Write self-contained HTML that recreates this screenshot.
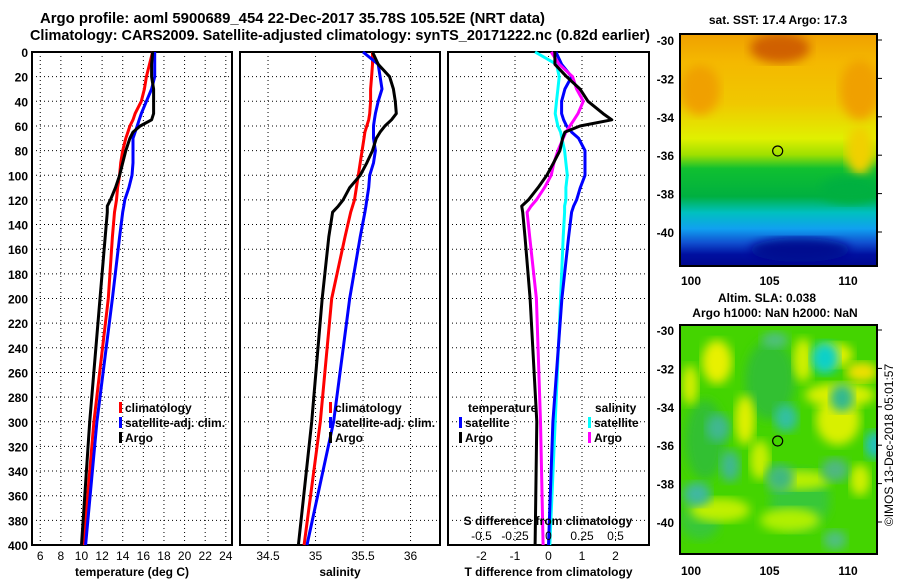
<!DOCTYPE html>
<html><head><meta charset="utf-8"><style>
body{margin:0;background:#fff;width:900px;height:580px;overflow:hidden}
svg{font-family:"Liberation Sans",Arial,sans-serif;font-weight:bold}
</style></head><body>
<svg id="c" width="900" height="580" xmlns="http://www.w3.org/2000/svg">
<defs>
<linearGradient id="sstg" x1="0" y1="0" x2="0" y2="1">
<stop offset="0" stop-color="#f0a000"/><stop offset="0.12" stop-color="#f4b800"/><stop offset="0.3" stop-color="#f0c800"/><stop offset="0.45" stop-color="#e0f000"/><stop offset="0.52" stop-color="#a0e000"/><stop offset="0.58" stop-color="#10c030"/><stop offset="0.7" stop-color="#00b040"/><stop offset="0.77" stop-color="#00c0c0"/><stop offset="0.84" stop-color="#10a0f0"/><stop offset="0.9" stop-color="#1050d0"/><stop offset="0.95" stop-color="#0010a0"/><stop offset="1" stop-color="#000890"/>
</linearGradient>
<filter id="bl"><feGaussianBlur stdDeviation="5"/></filter>
<clipPath id="m2c"><rect x="680" y="325" width="197" height="229"/></clipPath>
<clipPath id="m1c"><rect x="680" y="34" width="197" height="232"/></clipPath>
</defs>
<text x="40" y="23" font-size="15" textLength="505" lengthAdjust="spacingAndGlyphs">Argo profile: aoml 5900689_454 22-Dec-2017 35.78S 105.52E (NRT data)</text>
<text x="30" y="40" font-size="15" textLength="620" lengthAdjust="spacingAndGlyphs">Climatology: CARS2009. Satellite-adjusted climatology: synTS_20171222.nc (0.82d earlier)</text>
<g id="p"></g>
</svg>
<script>
// depth axis
const depths=[0,10,20,30,40,50,55,60,65,70,80,90,100,110,120,125,130,150,200,300,400];
const depthTicks=[0,20,40,60,80,100,120,140,160,180,200,220,240,260,280,300,320,340,360,380,400];
// temperature (deg C)
const tArgo=[16.9,16.8,16.8,17.0,17.0,17.0,16.8,15.7,15.0,14.7,14.3,14.0,13.7,13.3,12.8,12.5,12.5,12.3,11.8,10.8,10.0];
const tClim=[16.9,16.6,16.3,16.1,15.8,15.2,15.0,14.7,14.5,14.3,14.0,13.8,13.7,13.5,13.4,13.3,13.2,13.0,12.6,11.2,10.2];
const tSat=[17.1,17.1,17.1,16.8,16.3,15.8,15.6,15.4,15.2,15.0,15.0,15.0,14.9,14.6,14.2,14.1,14.0,13.7,13.0,11.5,10.4];
const tTicks=[6,8,10,12,14,16,18,20,22,24];
// salinity
const sArgo=[35.60,35.66,35.78,35.82,35.84,35.85,35.80,35.73,35.68,35.64,35.60,35.54,35.47,35.36,35.29,35.24,35.18,35.14,35.07,34.96,34.82];
const sClim=[35.60,35.60,35.59,35.58,35.58,35.57,35.56,35.54,35.52,35.51,35.49,35.47,35.45,35.43,35.41,35.39,35.37,35.31,35.17,35.05,34.88];
const sSat=[35.50,35.66,35.68,35.70,35.66,35.63,35.62,35.61,35.61,35.61,35.63,35.61,35.57,35.56,35.54,35.53,35.52,35.47,35.36,35.19,34.91];
const sTicks=[34.5,35,35.5,36];
// differences
const dTArgo=[0.19,0.19,0.54,0.94,1.18,1.63,1.89,0.94,0.49,0.42,0.34,0.15,-0.05,-0.31,-0.6,-0.8,-0.77,-0.7,-0.55,-0.35,-0.4];
const dTSat=[0.22,0.39,0.69,0.49,0.39,0.39,0.45,0.54,0.69,0.9,1.09,1.09,1.09,0.95,0.84,0.75,0.69,0.6,0.4,0.13,0.0];
const dSArgo=[0.02,0.08,0.18,0.21,0.26,0.22,0.19,0.16,0.13,0.11,0.07,0.04,0.02,-0.03,-0.09,-0.13,-0.16,-0.14,-0.09,-0.06,-0.04];
const dSSat=[-0.1,0.06,0.08,0.07,0.06,0.05,0.06,0.07,0.09,0.1,0.12,0.13,0.14,0.13,0.13,0.12,0.12,0.11,0.09,0.05,0.01];
const dTTicks=[-2,-1,0,1,2];
const dSTicks=[-0.5,-0.25,0,0.25,0.5];
const dSTickLabels=['-0.5','-0.25','0','0.25','0.5'];
const latTicks=[-30,-32,-34,-36,-38,-40];
const lonTicks=[100,105,110];
const argoPos=[105.52,-35.78];

const NS='http://www.w3.org/2000/svg';
const G=document.getElementById('p');
function el(t,a,txt,par){const e=document.createElementNS(NS,t);for(const k in a)e.setAttribute(k,a[k]);if(txt!=null)e.textContent=txt;(par||G).appendChild(e);return e;}
const Y0=52,Y1=545;
const yD=d=>Y0+d/400*(Y1-Y0);
function sc(x0,x1,v0,v1){return v=>x0+(v-v0)/(v1-v0)*(x1-x0);}
const xT=sc(32,232,5.2,24.6), xS=sc(240,440,34.205,36.31), xdT=sc(448,649,-3,3), xdS=sc(448,649,-0.75,0.75);

function panel(x0,x1,name,ticks,xf,labels,title){
  const g=el('g',{});
  
  
  el('rect',{x:x0,y:Y0,width:x1-x0,height:Y1-Y0,fill:'#fff',stroke:'#000','stroke-width':2},null,g);
  depthTicks.forEach(d=>{if(d>0&&d<400){const l=el('line',{x1:x0,x2:x1,y1:yD(d),y2:yD(d),stroke:'#000','stroke-dasharray':'1 3'},null,g);}});
  ticks.forEach(v=>{const l=el('line',{x1:xf(v),x2:xf(v),y1:Y0,y2:Y1,stroke:'#000','stroke-dasharray':'1 3'},null,g);});
  if(labels) ticks.forEach((v,i)=>{const t=el('text',{x:xf(v),y:560,'font-size':12,'text-anchor':'middle',style:'font-weight:normal'},labels[i],g);});
  const t=el('text',{x:(x0+x1)/2,y:576,'font-size':12,'text-anchor':'middle'},title,g);
  
  return g;
}
function line(xs,xf,col,name){
  const pts=depths.map((d,i)=>xf(xs[i]).toFixed(1)+','+yD(d).toFixed(1)).join(' ');
  const p=el('polyline',{points:pts,fill:'none',stroke:col,'stroke-width':3,'stroke-linejoin':'round'});
  
}
panel(32,232,'temperature-panel',tTicks,xT,tTicks.map(String),'temperature (deg C)');
panel(240,440,'salinity-panel',sTicks,xS,sTicks.map(String),'salinity');
panel(448,649,'difference-panel',dTTicks,xdT,dTTicks.map(String),'T difference from climatology');
depthTicks.forEach(d=>{const t=el('text',{x:28,y:yD(d)+5,'font-size':12,'text-anchor':'end'},String(d));});
line(tClim,xT,'#f00','temp-climatology-line');
line(tSat,xT,'#00f','temp-satellite-line');
line(tArgo,xT,'#000','temp-argo-line');
line(sClim,xS,'#f00','sal-climatology-line');
line(sSat,xS,'#00f','sal-satellite-line');
line(sArgo,xS,'#000','sal-argo-line');
line(dSSat,xdS,'#0ff','sdiff-satellite-line');
line(dTSat,xdT,'#00f','tdiff-satellite-line');
line(dSArgo,xdS,'#f0f','sdiff-argo-line');
line(dTArgo,xdT,'#000','tdiff-argo-line');
function leg(x,y,col,txt){
  const g=el('g',{});
  el('rect',{x:x,y:y-10,width:3,height:11,fill:col},null,g);
  el('text',{x:x+6,y:y,'font-size':12},txt,g);
}
leg(119,412,'#f00','climatology');leg(119,427,'#00f','satellite-adj. clim.');leg(119,442,'#000','Argo');
leg(329,412,'#f00','climatology');leg(329,427,'#00f','satellite-adj. clim.');leg(329,442,'#000','Argo');
el('text',{x:468,y:412,'font-size':12},'temperature');
leg(459,427,'#00f','satellite');leg(459,442,'#000','Argo');
el('text',{x:595,y:412,'font-size':12},'salinity');
leg(588,427,'#0ff','satellite');leg(588,442,'#f0f','Argo');
el('text',{x:548,y:525,'font-size':12,'text-anchor':'middle'},'S difference from climatology');
dSTicks.forEach((v,i)=>{const t=el('text',{x:xdS(v),y:540,'font-size':12,'text-anchor':'middle',style:'font-weight:normal'},dSTickLabels[i]);});

const xL=sc(691,848,100,110), yLa1=sc(40,232,-30,-40), yLa2=sc(330,522,-30,-40);
el('text',{x:778,y:24,'font-size':12,'text-anchor':'middle'},'sat. SST: 17.4 Argo: 17.3');
const m1=el('g',{'clip-path':'url(#m1c)'});
el('rect',{x:680,y:34,width:197,height:232,fill:'url(#sstg)'},null,m1);
el('ellipse',{cx:780,cy:48,rx:30,ry:15,fill:'#d06000',filter:'url(#bl)'},null,m1);
el('ellipse',{cx:700,cy:90,rx:20,ry:25,fill:'#f0a000',filter:'url(#bl)'},null,m1);
el('ellipse',{cx:860,cy:90,rx:20,ry:30,fill:'#f0a000',filter:'url(#bl)'},null,m1);
el('ellipse',{cx:860,cy:150,rx:14,ry:25,fill:'#f0d000',filter:'url(#bl)'},null,m1);
el('ellipse',{cx:800,cy:250,rx:50,ry:12,fill:'#000890',filter:'url(#bl)'},null,m1);
el('ellipse',{cx:850,cy:190,rx:30,ry:14,fill:'#00b040',filter:'url(#bl)'},null,m1);
el('rect',{x:680,y:34,width:197,height:232,fill:'none',stroke:'#000','stroke-width':2});
el('circle',{cx:xL(argoPos[0]),cy:yLa1(argoPos[1]),r:5,fill:'none',stroke:'#000','stroke-width':1.2});

el('text',{x:767,y:302,'font-size':12,'text-anchor':'middle'},'Altim. SLA: 0.038');
el('text',{x:775,y:317,'font-size':12,'text-anchor':'middle'},'Argo h1000: NaN h2000: NaN');
const m2=el('g',{'clip-path':'url(#m2c)'});
el('rect',{x:680,y:325,width:197,height:229,fill:'#44d400'},null,m2);
const db=[[770,380,25,40,'#30c030'],[705,440,20,40,'#30c030'],[800,500,30,30,'#38c838'],[700,520,20,20,'#38c838']];
db.forEach(b=>el('ellipse',{cx:b[0],cy:b[1],rx:b[2],ry:b[3],fill:b[4],filter:'url(#bl)'},null,m2));
const yb=[[717,362,15,22,'#e8f000'],[690,385,8,20,'#d8f000'],[803,360,10,22,'#d0f000'],[835,355,18,12,'#e0f000'],[840,395,35,12,'#d8f000'],[862,372,16,10,'#f0e000'],[838,420,22,25,'#d8f000'],[745,420,10,25,'#e0f000'],[760,460,10,20,'#c8f000'],[720,510,30,12,'#c0f000'],[800,480,30,10,'#b8f000'],[790,520,30,12,'#b0f000'],[860,480,10,16,'#d0f000']];
yb.forEach(b=>el('ellipse',{cx:b[0],cy:b[1],rx:b[2],ry:b[3],fill:b[4],filter:'url(#bl)'},null,m2));
const tb=[[825,358,14,16,'#10d0c8'],[842,398,12,14,'#30b890'],[786,418,12,14,'#30c0a0'],[718,428,12,14,'#40b890'],[730,466,10,16,'#40b890'],[697,494,14,12,'#40b8a0'],[780,478,14,14,'#40b880'],[875,445,10,14,'#20c0c0'],[835,470,14,12,'#50b880'],[775,340,14,8,'#50c080'],[835,540,12,10,'#50c080']];
tb.forEach(b=>el('ellipse',{cx:b[0],cy:b[1],rx:b[2],ry:b[3],fill:b[4],filter:'url(#bl)'},null,m2));
el('rect',{x:680,y:325,width:197,height:229,fill:'none',stroke:'#000','stroke-width':2});
el('circle',{cx:xL(argoPos[0]),cy:yLa2(argoPos[1]),r:5,fill:'none',stroke:'#000','stroke-width':1.2});
[yLa1,yLa2].forEach((yf,k)=>{
  latTicks.forEach(v=>{const t=el('text',{x:674,y:yf(v)+5,'font-size':12,'text-anchor':'end'},String(v));
    el('line',{x1:877,x2:882,y1:yf(v),y2:yf(v),stroke:'#000'});});
  lonTicks.forEach(v=>{const t=el('text',{x:xL(v),y:k?575:285,'font-size':12,'text-anchor':'middle'},String(v));});
});
const im=el('text',{x:0,y:0,'font-size':12,'text-anchor':'middle',style:'font-weight:normal',transform:'translate(893,445) rotate(-90)'},'©IMOS 13-Dec-2018 05:01:57');

</script>
</body></html>
